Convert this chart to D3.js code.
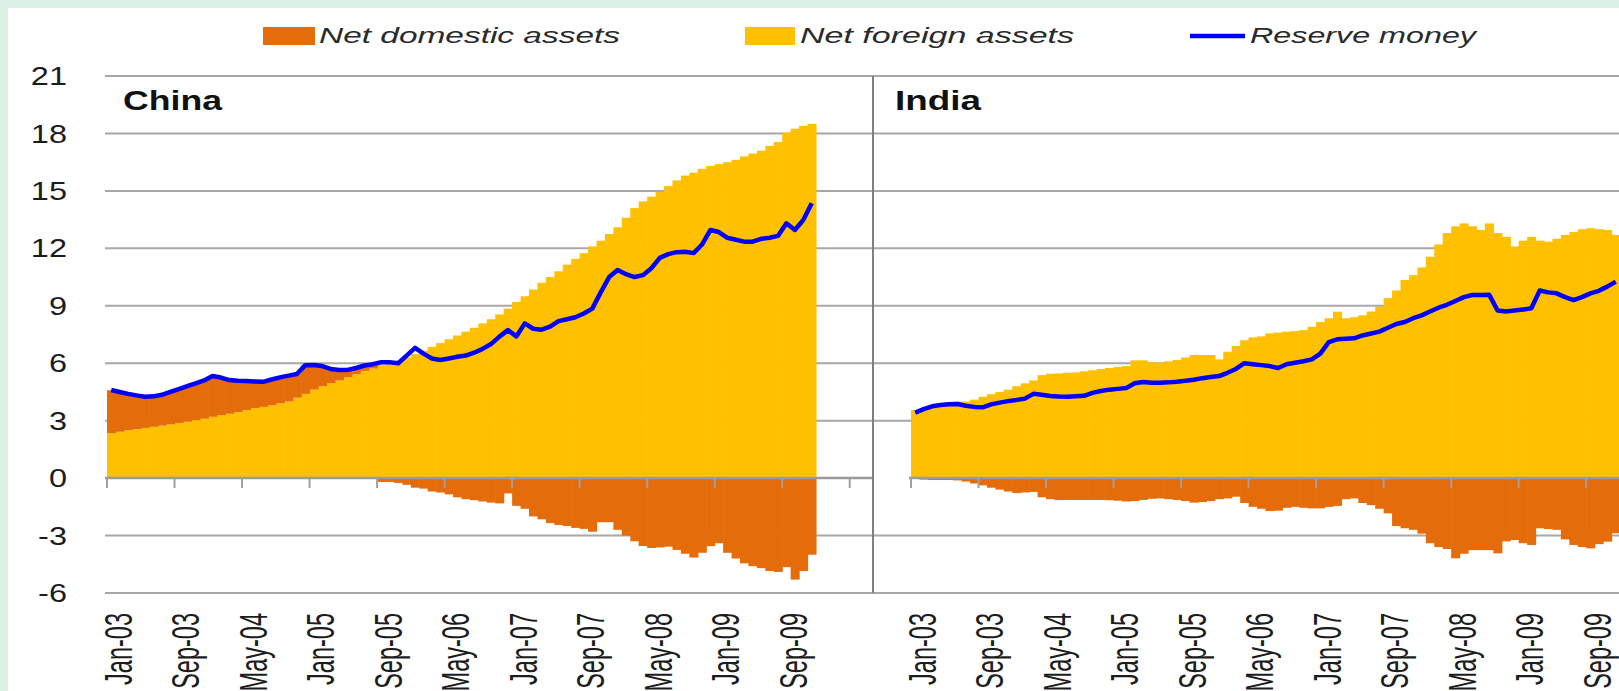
<!DOCTYPE html>
<html lang="en">
<head>
    <meta charset="UTF-8">
    <title>Reserve money: China and India</title>
    <script src="https://d3js.org/d3.v7.min.js"></script>
    <style>
        body {
            margin: 0;
            overflow: hidden;
            background: #ffffff;
        }
        text {
            font-family: "Liberation Sans", Arial, sans-serif;
            fill: #1c1c1c;
        }
        .grid {
            stroke: #a8a8a8;
            stroke-width: 2;
        }
        .rm-line {
            fill: none;
            stroke: #0000ff;
            stroke-width: 4.5;
            stroke-linejoin: round;
        }
    </style>
</head>
<body>
    <svg id="chart" width="1619" height="691"></svg>

    <script>
        // categories: monthly, Jan-03 .. Dec-09
        const monthNames = ["Jan", "Feb", "Mar", "Apr", "May", "Jun", "Jul", "Aug", "Sep", "Oct", "Nov", "Dec"];
        const years = ["03", "04", "05", "06", "07", "08", "09"];
        const months = [];
        years.forEach(yy => monthNames.forEach(m => months.push(m + "-" + yy)));

        const tickLabels = ["Jan-03", "Sep-03", "May-04", "Jan-05", "Sep-05", "May-06",
                            "Jan-07", "Sep-07", "May-08", "Jan-09", "Sep-09"];
        const yTicks = [21, 18, 15, 12, 9, 6, 3, 0, -3, -6];

        // China
        const chinaNFA = [
            2.34, 2.42, 2.50, 2.56, 2.62, 2.68, 2.74, 2.80, 2.88, 2.95, 3.03, 3.10,
            3.20, 3.28, 3.36, 3.45, 3.55, 3.65, 3.72, 3.80, 3.90, 4.00, 4.20, 4.40,
            4.62, 4.80, 4.95, 5.10, 5.28, 5.42, 5.60, 5.72, 5.90, 6.00, 6.10, 6.30,
            6.48, 6.65, 6.85, 7.05, 7.25, 7.45, 7.65, 7.85, 8.08, 8.30, 8.55, 8.85,
            9.20, 9.50, 9.85, 10.20, 10.50, 10.80, 11.15, 11.45, 11.75, 12.10, 12.40, 12.75,
            13.10, 13.60, 14.10, 14.45, 14.70, 14.95, 15.25, 15.55, 15.80, 15.95, 16.15, 16.30,
            16.40, 16.50, 16.62, 16.80, 16.95, 17.10, 17.35, 17.55, 18.05, 18.25, 18.40, 18.50
        ];
        const chinaNDA = [
            2.25, 2.10, 1.90, 1.75, 1.63, 1.60, 1.60, 1.70, 1.78, 1.85, 1.92, 2.00,
            2.10, 1.95, 1.75, 1.62, 1.50, 1.40, 1.30, 1.35, 1.35, 1.35, 1.25, 1.50,
            1.30, 1.05, 0.75, 0.55, 0.38, 0.30, 0.28, 0.22, -0.20, -0.20, -0.25, -0.35,
            -0.50, -0.55, -0.70, -0.75, -0.85, -1.00, -1.10, -1.15, -1.22, -1.28, -1.32, -0.80,
            -1.45, -1.60, -2.00, -2.15, -2.35, -2.45, -2.50, -2.60, -2.65, -2.80, -2.30, -2.30,
            -2.70, -3.00, -3.30, -3.55, -3.65, -3.62, -3.58, -3.75, -3.95, -4.15, -3.90, -3.55,
            -3.40, -3.90, -4.20, -4.45, -4.60, -4.70, -4.85, -4.90, -4.65, -5.30, -4.85, -4.00
        ];
        const chinaRM = [
            4.60, 4.50, 4.40, 4.32, 4.25, 4.27, 4.35, 4.50, 4.65, 4.80, 4.95, 5.10,
            5.33, 5.25, 5.12, 5.08, 5.07, 5.05, 5.03, 5.15, 5.26, 5.35, 5.44, 5.90,
            5.91, 5.85, 5.70, 5.65, 5.65, 5.75, 5.88, 5.95, 6.05, 6.05, 6.00, 6.40,
            6.80, 6.50, 6.25, 6.17, 6.25, 6.34, 6.40, 6.55, 6.75, 7.00, 7.39, 7.73,
            7.40, 8.08, 7.80, 7.75, 7.91, 8.20, 8.30, 8.40, 8.60, 8.85, 9.70, 10.50,
            10.87, 10.65, 10.50, 10.60, 10.96, 11.50, 11.70, 11.80, 11.82, 11.75, 12.20, 12.96,
            12.85, 12.55, 12.45, 12.35, 12.35, 12.50, 12.55, 12.65, 13.31, 12.96, 13.48, 14.35
        ];

        // India
        const indiaNFA = [
            3.56, 3.65, 3.75, 3.85, 3.97, 4.00, 4.00, 4.10, 4.25, 4.38, 4.50, 4.62,
            4.80, 4.95, 5.10, 5.38, 5.45, 5.47, 5.50, 5.52, 5.58, 5.63, 5.70, 5.75,
            5.80, 5.85, 6.15, 6.15, 6.05, 6.03, 6.10, 6.17, 6.30, 6.43, 6.43, 6.43,
            6.20, 6.60, 6.90, 7.20, 7.35, 7.40, 7.56, 7.60, 7.65, 7.68, 7.73, 7.90,
            8.15, 8.35, 8.69, 8.35, 8.40, 8.50, 8.70, 8.95, 9.40, 9.80, 10.35, 10.60,
            11.00, 11.56, 12.20, 12.80, 13.15, 13.30, 13.15, 12.96, 13.30, 12.80, 12.60, 12.10,
            12.40, 12.60, 12.40, 12.35, 12.50, 12.70, 12.85, 13.00, 13.05, 13.00, 12.96, 12.70
        ];
        const indiaNDA = [
            -0.02, -0.08, -0.10, -0.10, -0.10, -0.12, -0.18, -0.28, -0.38, -0.50, -0.60, -0.70,
            -0.78, -0.75, -0.72, -1.00, -1.10, -1.15, -1.14, -1.14, -1.14, -1.14, -1.14, -1.15,
            -1.18, -1.22, -1.20, -1.14, -1.08, -1.06, -1.10, -1.14, -1.20, -1.28, -1.25, -1.20,
            -1.10, -1.06, -0.97, -1.30, -1.50, -1.60, -1.72, -1.70, -1.55, -1.50, -1.55, -1.58,
            -1.58, -1.50, -1.45, -1.10, -1.06, -1.30, -1.41, -1.60, -1.84, -2.50, -2.62, -2.70,
            -2.90, -3.40, -3.60, -3.70, -4.19, -3.95, -3.76, -3.76, -3.76, -3.93, -3.30, -3.23,
            -3.40, -3.49, -2.62, -2.66, -2.70, -3.20, -3.49, -3.60, -3.67, -3.45, -3.32, -2.88
        ];
        const indiaRM = [
            3.42, 3.60, 3.75, 3.82, 3.86, 3.87, 3.78, 3.72, 3.70, 3.85, 3.94, 4.02,
            4.08, 4.15, 4.40, 4.35, 4.29, 4.26, 4.25, 4.28, 4.30, 4.45, 4.55, 4.62,
            4.66, 4.70, 4.95, 5.02, 4.98, 4.98, 5.00, 5.03, 5.08, 5.14, 5.22, 5.28,
            5.33, 5.50, 5.70, 6.00, 5.95, 5.90, 5.85, 5.75, 5.95, 6.02, 6.10, 6.20,
            6.50, 7.10, 7.25, 7.28, 7.30, 7.45, 7.55, 7.65, 7.85, 8.05, 8.15, 8.35,
            8.50, 8.70, 8.90, 9.05, 9.25, 9.45, 9.56, 9.56, 9.58, 8.75, 8.70, 8.75,
            8.80, 8.87, 9.80, 9.70, 9.65, 9.45, 9.30, 9.45, 9.65, 9.78, 10.00, 10.26
        ];

        const colors = {nda: "#e46c0a", nfa: "#ffc000", rm: "#0000ff"};

        const svg = d3.select("#chart");
        const W = 1619, H = 691;

        // mint frame
        svg.append("rect").attr("width", W).attr("height", H).attr("fill", "#dcefe5");
        svg.append("rect").attr("x", 8).attr("y", 8).attr("width", W).attr("height", H).attr("fill", "#ffffff");

        const y = d3.scaleLinear().domain([-6, 21]).range([593, 76]);
        const gridLeft = 105;

        // gridlines (behind the columns)
        svg.append("g").selectAll("line")
            .data(yTicks.filter(d => d !== 0))
            .enter().append("line")
            .attr("class", "grid")
            .attr("x1", gridLeft).attr("x2", W)
            .attr("y1", d => y(d)).attr("y2", d => y(d));

        // y labels
        svg.append("g").selectAll("text")
            .data(yTicks)
            .enter().append("text")
            .attr("transform", d => `translate(67,${y(d)}) scale(1.25,1)`)
            .attr("text-anchor", "end")
            .attr("dy", "0.35em")
            .style("font-size", "26px")
            .text(d => d);

        const panels = [
            {name: "China", x0: 107, end: 873, nfa: chinaNFA, nda: chinaNDA, rm: chinaRM, titleX: 123, titleLen: 99},
            {name: "India", x0: 911, end: W, nfa: indiaNFA, nda: indiaNDA, rm: indiaRM, titleX: 895, titleLen: 86}
        ];

        const stack = d3.stack()
            .keys(["nfa", "nda"])
            .offset(d3.stackOffsetDiverging);

        panels.forEach(p => {
            const x = d3.scaleBand()
                .domain(months)
                .range([p.x0, p.x0 + 84 * 8.44])
                .padding(0);

            const rows = months.map((m, i) => ({month: m, nfa: p.nfa[i], nda: p.nda[i]}));
            const series = stack(rows);

            const g = svg.append("g");

            g.selectAll("g.series")
                .data(series)
                .enter().append("g")
                .attr("class", "series")
                .attr("fill", d => colors[d.key])
                .selectAll("rect")
                .data(d => d)
                .enter().append("rect")
                .attr("x", d => x(d.data.month))
                .attr("width", x.bandwidth() + 0.6)
                .attr("y", d => y(Math.max(d[0], d[1])))
                .attr("height", d => Math.abs(y(d[0]) - y(d[1])));

            const line = d3.line()
                .x((d, i) => x(months[i]) + x.bandwidth() / 2)
                .y(d => y(d));

            g.append("path")
                .datum(p.rm)
                .attr("class", "rm-line")
                .attr("d", line);

            // zero axis with ticks every 8 months
            g.append("line")
                .attr("x1", p.x0 - 2).attr("x2", p.end)
                .attr("y1", y(0)).attr("y2", y(0))
                .attr("stroke", "#9a9a9a").attr("stroke-width", 2.5);

            const tickXs = d3.range(0, 12).map(k => p.x0 + k * 8 * x.step()).filter(v => v < p.end - 5);
            g.selectAll("line.tick")
                .data(tickXs)
                .enter().append("line")
                .attr("class", "tick")
                .attr("x1", d => d).attr("x2", d => d)
                .attr("y1", y(0)).attr("y2", y(0) + 10)
                .attr("stroke", "#a0a0a0").attr("stroke-width", 2);

            g.selectAll("text.xlab")
                .data(tickLabels)
                .enter().append("text")
                .attr("class", "xlab")
                .attr("transform", d => `translate(${x(d) + 10.5},613) scale(1.4,0.84) rotate(-90)`)
                .attr("text-anchor", "end")
                .attr("dy", "0.36em")
                .style("font-size", "28px")
                .text(d => d);

            g.append("text")
                .attr("x", p.titleX).attr("y", 110)
                .attr("textLength", p.titleLen)
                .attr("lengthAdjust", "spacingAndGlyphs")
                .style("font-size", "27px")
                .style("font-weight", "bold")
                .style("fill", "#111")
                .text(p.name);
        });

        // panel divider
        svg.append("line")
            .attr("x1", 873).attr("x2", 873)
            .attr("y1", y(21)).attr("y2", y(-6))
            .attr("stroke", "#7f7f7f").attr("stroke-width", 2);

        // legend
        const legend = [
            {label: "Net domestic assets", key: "nda", type: "box", x: 263, w: 52, textX: 319, textLen: 301},
            {label: "Net foreign assets", key: "nfa", type: "box", x: 745, w: 50, textX: 800, textLen: 274},
            {label: "Reserve money", key: "rm", type: "line", x: 1190, w: 55, textX: 1250, textLen: 226}
        ];
        const lg = svg.append("g");
        legend.forEach(l => {
            if (l.type === "box") {
                lg.append("rect")
                    .attr("x", l.x).attr("y", 27)
                    .attr("width", l.w).attr("height", 18)
                    .attr("fill", colors[l.key]);
            } else {
                lg.append("line")
                    .attr("x1", l.x).attr("x2", l.x + l.w)
                    .attr("y1", 36).attr("y2", 36)
                    .attr("stroke", colors[l.key]).attr("stroke-width", 4.5);
            }
            lg.append("text")
                .attr("x", l.textX).attr("y", 43)
                .attr("textLength", l.textLen)
                .attr("lengthAdjust", "spacingAndGlyphs")
                .style("font-size", "22px")
                .style("font-style", "italic")
                .style("fill", "#2a2a2a")
                .text(l.label);
        });
    </script>
</body>
</html>
